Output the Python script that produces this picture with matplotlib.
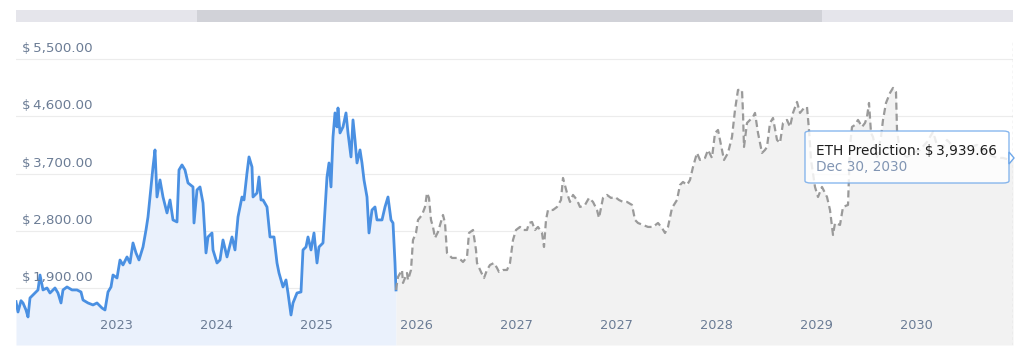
import matplotlib
matplotlib.use("Agg")
import matplotlib.pyplot as plt
from matplotlib.patches import FancyBboxPatch, Rectangle, Polygon

# time index along the chart (0 = start of history, 997 = Dec 30, 2030)
hist_t = [0, 2, 5, 7, 10, 12, 14, 19, 22, 24, 27, 31, 34, 39, 42, 45, 47, 51, 56, 61,
          65, 67, 72, 77, 81, 86, 89, 92, 95, 97, 101, 104, 107, 111, 114, 117, 120, 123,
          127, 130, 132, 134, 137, 139, 141, 144, 147, 151, 154, 157, 161, 163, 166, 169,
          172, 177, 178, 181, 184, 187, 189, 190, 192, 196, 197, 201, 204, 207, 211, 216,
          219, 222, 226, 228, 231, 233, 236, 237, 241, 243, 245, 247, 251, 254, 258, 261,
          263, 267, 270, 272, 275, 277, 281, 285, 287, 290, 292, 295, 298, 301, 303, 307,
          309, 311, 313, 315, 317, 319, 321, 322, 324, 327, 330, 332, 335, 337, 339, 341,
          344, 346, 348, 351, 353, 356, 359, 361, 366, 369, 372, 375, 377, 379, 380]
hist_price = [1685, 1522, 1700, 1664, 1554, 1444, 1743, 1821, 1869, 2104, 1869, 1900, 1821,
              1900, 1821, 1664, 1869, 1916, 1869, 1869, 1837, 1711, 1664, 1633, 1664, 1585,
              1554, 1837, 1916, 2104, 2057, 2340, 2262, 2388, 2293, 2608, 2451, 2340, 2545,
              2812, 3017, 3331, 3803, 4071, 3331, 3599, 3331, 3080, 3284, 2970, 2938, 3756,
              3835, 3756, 3552, 3489, 2922, 3442, 3489, 3237, 2702, 2451, 2702, 2765, 2498,
              2293, 2340, 2655, 2388, 2702, 2498, 3017, 3331, 3284, 3709, 3961, 3803, 3331,
              3394, 3646, 3284, 3284, 3174, 2702, 2702, 2293, 2136, 1916, 2026, 1821, 1475,
              1664, 1821, 1837, 2498, 2545, 2702, 2498, 2765, 2293, 2545, 2608, 3127, 3646,
              3866, 3489, 4275, 4653, 4433, 4731, 4338, 4433, 4653, 4338, 3961, 4543, 4228,
              3866, 4071, 3866, 3599, 3331, 2765, 3127, 3174, 2970, 2970, 3174, 3331, 2970,
              2922, 2293, 1869]

pred_t = [380, 382, 386, 387, 391, 392, 395, 397, 400, 402, 406, 409, 411, 413, 415, 417,
          419, 422, 427, 429, 431, 436, 441, 445, 447, 451, 453, 457, 460, 461, 465, 468,
          471, 474, 478, 481, 483, 487, 491, 494, 497, 500, 504, 507, 511, 513, 516, 519,
          522, 526, 528, 530, 532, 537, 541, 545, 547, 551, 554, 557, 561, 564, 569, 573,
          577, 581, 583, 587, 591, 595, 599, 603, 607, 611, 616, 619, 622, 627, 632, 637,
          642, 646, 649, 652, 656, 661, 664, 667, 671, 674, 677, 681, 684, 689, 692, 696,
          699, 702, 706, 708, 712, 716, 719, 722, 726, 727, 728, 731, 734, 737, 739, 742,
          746, 749, 751, 754, 757, 761, 764, 767, 771, 774, 777, 781, 784, 788, 791, 793,
          795, 799, 802, 806, 811, 814, 817, 819, 824, 827, 832, 834, 836, 839, 842, 846,
          849, 851, 853, 855, 857, 861, 865, 867, 870, 874, 877, 880, 881, 884, 891, 897,
          904, 911, 917, 921, 927, 931, 934, 941, 947, 954, 961, 967, 974, 981, 987, 994, 997]
pred_price = [1869, 2073, 2183, 1979, 2136, 2026, 2183, 2655, 2765, 2970, 3048, 3174, 3394,
              3316, 2970, 2860, 2687, 2781, 3048, 2922, 2451, 2372, 2372, 2340, 2309, 2388,
              2765, 2812, 2498, 2293, 2152, 2057, 2183, 2262, 2293, 2215, 2152, 2183, 2183,
              2293, 2655, 2812, 2860, 2812, 2812, 2922, 2938, 2812, 2860, 2765, 2545, 2970,
              3127, 3127, 3174, 3284, 3630, 3394, 3253, 3363, 3284, 3174, 3206, 3316, 3253,
              3127, 3001, 3316, 3363, 3316, 3331, 3284, 3253, 3253, 3206, 2970, 2922, 2891,
              2860, 2860, 2922, 2844, 2765, 2860, 3158, 3284, 3520, 3567, 3520, 3599, 3803,
              4024, 3913, 3945, 4071, 3945, 4338, 4385, 4071, 3913, 4024, 4275, 4700, 5015,
              5015, 4653, 4118, 4495, 4543, 4590, 4653, 4338, 4024, 4071, 4118, 4495, 4574,
              4228, 4181, 4495, 4543, 4433, 4653, 4826, 4653, 4731, 4747, 4385, 3913, 3489,
              3331, 3489, 3331, 3127, 2734, 2922, 2891, 3174, 3206, 4118, 4433, 4464, 4543,
              4433, 4495, 4590, 4810, 4338, 4275, 3961, 4275, 4543, 4810, 4967, 5046, 4983,
              4385, 4024, 3961, 4024, 4071, 4197, 4354, 4149, 4118, 4228, 4181, 4024, 4071,
              4118, 4149, 4071, 3992, 3945, 3945, 3913, 3940]

y_ticks = [1900, 2800, 3700, 4600, 5500]
y_labels = ["$\u20091,900.00", "$\u20092,800.00", "$\u20093,700.00", "$\u20094,600.00", "$\u20095,500.00"]
x_ticks = [100, 200, 300, 400, 500, 600, 700, 800, 900]
x_labels = ["2023", "2024", "2025", "2026", "2027", "2027", "2028", "2029", "2030"]

tip_label = "ETH Prediction: $\u20093,939.66"
tip_date = "Dec 30, 2030"

W, H = 1024, 356
fig = plt.figure(figsize=(W / 100, H / 100), dpi=100)
fig.patch.set_facecolor("white")

def fx(px):
    return px / W

def fy(py):
    return 1 - py / H

ax = fig.add_axes([fx(16), fy(345), fx(1013) - fx(16), fy(40) - fy(345)])
ax.set_xlim(0, 997)
ax.set_ylim(1003, 5800)
for s in ax.spines.values():
    s.set_visible(False)

label_col = "#6b7c95"

# grid
for v in y_ticks:
    ax.axhline(v, color="#ececec", lw=0.8, zorder=0)
ax.set_yticks([])

# areas
ax.fill_between(hist_t, hist_price, 1003, color="#eaf1fc", lw=0, zorder=1)
ax.fill_between(pred_t, pred_price, 1003, color="#f2f2f2", lw=0, zorder=1)

# lines
ax.plot(hist_t, hist_price, color="#4a90e2", lw=2.0, solid_joinstyle="round", zorder=3)
ax.plot(pred_t, pred_price, color="#9a9a9a", lw=1.6, ls=(0, (3.2, 1.8)), zorder=3)

# end marker line
ax.axvline(997, color="#cfcfcf", lw=1.0, ls=(0, (2, 2)), zorder=2)

# y labels inside plot
for v, lab in zip(y_ticks, y_labels):
    ax.annotate(lab, xy=(0, v), xycoords=("axes fraction", "data"),
                xytext=(6, 4), textcoords="offset pixels",
                ha="left", va="bottom", fontsize=9.6, color=label_col, zorder=4)

# x labels inside plot
ax.set_xticks(x_ticks)
ax.set_xticklabels(x_labels)
ax.tick_params(axis="x", length=0, pad=-19, labelsize=9.3, labelcolor=label_col)
for lab in ax.get_xticklabels():
    lab.set_zorder(5)

# scrollbar on top
fig.patches.append(Rectangle((fx(16), fy(22)), fx(1013) - fx(16), fy(10) - fy(22),
                             transform=fig.transFigure, color="#e5e5eb", lw=0))
fig.patches.append(Rectangle((fx(197), fy(22)), fx(822) - fx(197), fy(10) - fy(22),
                             transform=fig.transFigure, color="#d1d2d8", lw=0))

# tooltip
box = FancyBboxPatch((fx(805), fy(183)), fx(1009) - fx(805), fy(131) - fy(183),
                     boxstyle="round,pad=0,rounding_size=0.006",
                     transform=fig.transFigure, facecolor="white", alpha=0.82,
                     edgecolor="#6fa8ea", lw=1.0, zorder=10, mutation_aspect=H / W * 2.9)
fig.patches.append(box)
tri = Polygon([(fx(1009), fy(152)), (fx(1014), fy(158)), (fx(1009), fy(164))],
              closed=True, transform=fig.transFigure, facecolor="white",
              edgecolor="#6fa8ea", lw=1.0, zorder=11)
fig.patches.append(tri)
fig.text(fx(816), fy(151), tip_label, fontsize=9.8, color="#1e1e1e", va="center", ha="left", zorder=12)
fig.text(fx(816), fy(167), tip_date, fontsize=9.8, color="#8195b3", va="center", ha="left", zorder=12)

fig.savefig("out.png", dpi=100)
